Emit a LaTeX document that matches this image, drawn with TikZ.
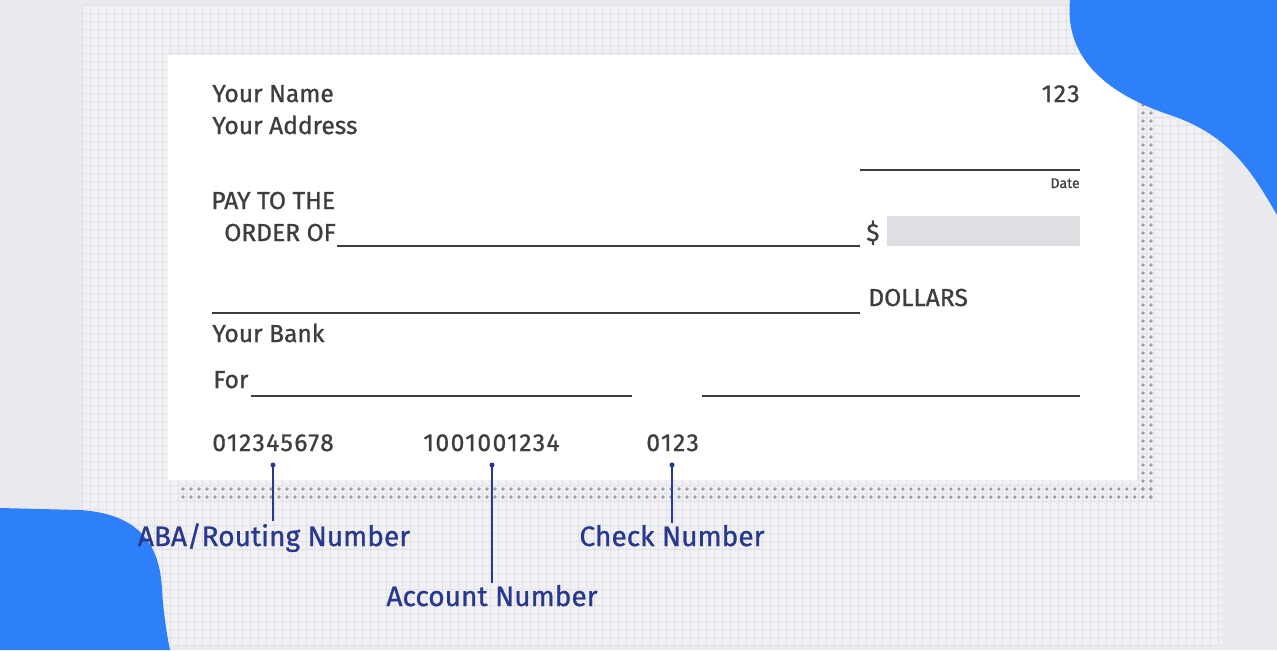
\documentclass[tikz,border=0pt]{standalone}
\usepackage{fontspec}
\setmainfont{Fira Sans}[FakeBold=0.9]
\newfontfamily\micrfont{Fira Sans}[FakeBold=0.9, LetterSpace=6]
\usetikzlibrary{positioning}

\definecolor{pagebg}{RGB}{234,234,238}
\definecolor{gridbg}{RGB}{241,241,244}
\definecolor{gridln}{RGB}{225,225,231}
\definecolor{blobblue}{RGB}{46,128,250}
\definecolor{inkgrey}{RGB}{62,62,64}
\definecolor{navy}{RGB}{40,56,140}
\definecolor{dotgrey}{RGB}{155,155,166}
\definecolor{amountbox}{RGB}{222,223,226}

\begin{document}
\begin{tikzpicture}[x=0.02cm, y=-0.02cm,
    chktext/.style={inkgrey, font=\fontsize{14}{16}\selectfont, inner sep=0pt},
    micrtext/.style={inkgrey, font=\micrfont\fontsize{14}{16}\selectfont, inner sep=0pt},
    smalltext/.style={inkgrey, font=\fontsize{8}{10}\selectfont, inner sep=0pt},
    fieldline/.style={inkgrey, line width=1.1pt},
    dotline/.style={dotgrey, line width=0.075cm, line cap=round, dash pattern=on 0pt off 0.16cm},
    gridline/.style={gridln, line width=0.3pt},
    partlabel/.style={navy, font=\fontsize{16}{18}\selectfont, inner sep=1pt},
    pointer/.style={navy, line width=1.1pt}]

    % Page background and grid
    \useasboundingbox (0,0) rectangle (1277,650);
    \fill[pagebg] (0,0) rectangle (1277,650);
    \fill[gridbg] (82,5) rectangle (1222,645);
    \foreach \gx in {82,90,...,1222}
        \draw[gridline] (\gx,5) -- (\gx,645);
    \foreach \gy in {5,13,...,645}
        \draw[gridline] (82,\gy) -- (1222,\gy);

    % Dotted shadow of the cheque
    \draw[dotline] (183,489) -- (1151,489);
    \draw[dotline] (183,497) -- (1151,497);
    \draw[dotline] (1143,97) -- (1143,489);
    \draw[dotline] (1151,97) -- (1151,497);

    % The cheque
    \fill[white] (168,55) rectangle (1137,480);

    % Blue blobs
    \fill[blobblue] (1070,0) .. controls (1064,60) and (1110,95) .. (1170,115)
        .. controls (1230,135) and (1252,172) .. (1277,215) -- (1277,0) -- cycle;
    \fill[blobblue] (0,508) -- (80,510) .. controls (140,514) and (160,545) .. (162,590)
        .. controls (164,620) and (168,640) .. (170,650) -- (0,650) -- cycle;

    % Header
    \node[chktext, anchor=base west] (yourname) at (212,102) {Your Name};
    \node[chktext, anchor=base west] (youraddr) at (212,134) {Your Address};
    \node[micrtext, anchor=base east] (chknum) at (1080,102) {123};

    % Date
    \coordinate (datel) at (860,170);
    \coordinate (dater) at (1080,170);
    \draw[fieldline] (datel) -- (dater);
    \node[smalltext, anchor=base east] (date) at (1080,188) {Date};

    % Payee
    \node[chktext, anchor=base west] (payto) at (211,209) {PAY TO THE};
    \node[chktext, anchor=base west] (orderof) at (224,241) {ORDER OF};
    \coordinate (payeer) at (860,246);
    \draw[fieldline] (orderof.base east) ++(1,5) -- (payeer);
    \node[chktext, anchor=base west] (dollarsign) at (866,241) {\$};
    \fill[amountbox] (887,216) rectangle (1080,246);

    % Amount in words
    \coordinate (wordsl) at (212,313);
    \coordinate (wordsr) at (860,313);
    \draw[fieldline] (wordsl) -- (wordsr);
    \node[chktext, anchor=base west] (dollars) at (868,306) {DOLLARS};

    % Bank, memo and signature
    \node[chktext, anchor=base west] (yourbank) at (212,342) {Your Bank};
    \node[chktext, anchor=base west] (memo) at (213,388) {For};
    \coordinate (memor) at (632,396);
    \draw[fieldline] (memo.base east) ++(2,8) -- (memor);
    \coordinate (signl) at (702,396);
    \coordinate (signr) at (1080,396);
    \draw[fieldline] (signl) -- (signr);

    % MICR line
    \node[micrtext, anchor=base west] (routingnum) at (212,451) {012345678};
    \node[micrtext, anchor=base west] (accountnum) at (423,451) {1001001234};
    \node[micrtext, anchor=base west] (checknum) at (646,451) {0123};

    % Labels below the cheque
    \node[partlabel, anchor=base] (routinglbl) at (274,546) {ABA/Routing Number};
    \node[partlabel, anchor=base] (accountlbl) at (492,606) {Account Number};
    \node[partlabel, anchor=base] (checklbl) at (672,546) {Check Number};

    \coordinate (routingdot) at (273,465);
    \coordinate (accountdot) at (492,465);
    \coordinate (checkdot) at (672,465);
    \fill[navy] (routingdot) circle (2.5);
    \fill[navy] (accountdot) circle (2.5);
    \fill[navy] (checkdot) circle (2.5);
    \draw[pointer] (routingdot) -- (routingdot |- routinglbl.north);
    \draw[pointer] (accountdot) -- (accountdot |- accountlbl.north);
    \draw[pointer] (checkdot) -- (checkdot |- checklbl.north);
\end{tikzpicture}
\end{document}
